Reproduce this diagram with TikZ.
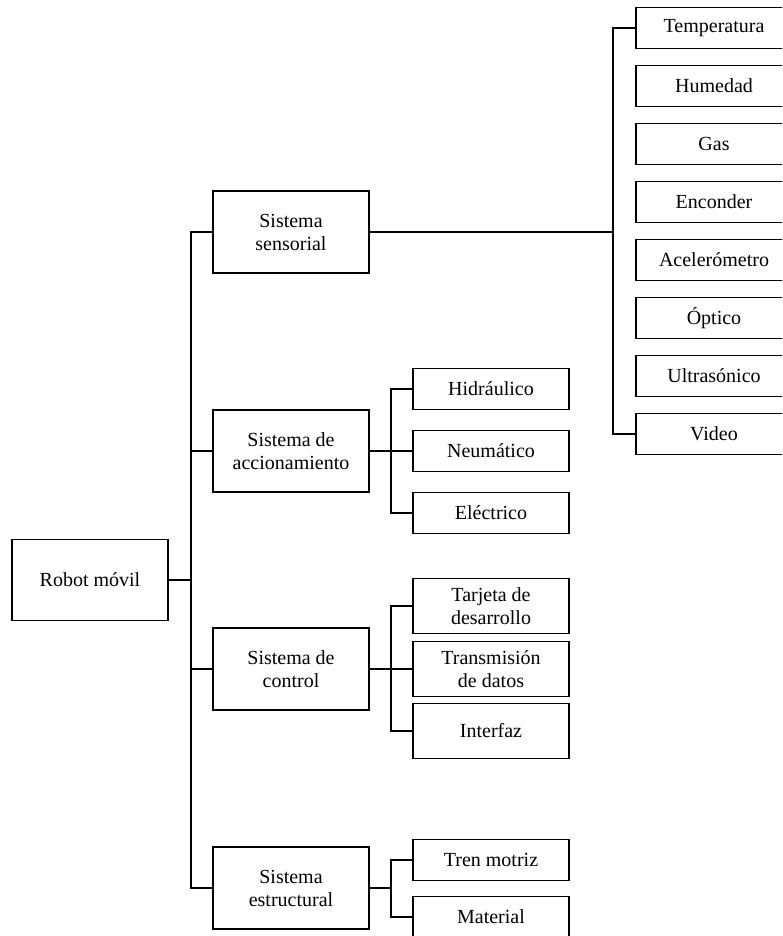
\documentclass[tikz,border=0pt]{standalone}
\usepackage{fontspec}
\setmainfont{Liberation Serif}
\usepackage{tikz}
\usetikzlibrary{positioning,calc}
\tikzset{
  box/.style={draw=black, line width=1.8pt, align=center, inner sep=2pt, minimum width=156pt, minimum height=82pt, font=\fontsize{20}{23}\selectfont},
  leaf/.style={draw=black, line width=1.8pt, align=center, inner sep=2pt, minimum width=156pt, minimum height=41pt, font=\fontsize{20}{23}\selectfont},
  tallleaf/.style={leaf, minimum height=55pt},
  link/.style={line width=1.5pt}
}

\begin{document}
\begin{tikzpicture}[x=1pt, y=-1pt]
\clip (0,0) rectangle (782,936);
\fill[white] (0,0) rectangle (782,936);
\node[box, minimum height=81pt] (robot) at (90,580) {Robot móvil};
\node[box] (sens) at (291,232) {Sistema\\sensorial};
\node[box] (acc) at (291,451) {Sistema de\\accionamiento};
\node[box] (ctrl) at (291,669) {Sistema de\\control};
\node[box] (estr) at (291,888) {Sistema\\estructural};
% sensores
\node[leaf] (temp) at (714,28) {Temperatura};
\node[leaf] (hum) at (714,86) {Humedad};
\node[leaf] (gas) at (714,144) {Gas};
\node[leaf] (enc) at (714,202) {Enconder};
\node[leaf] (acel) at (714,260) {Acelerómetro};
\node[leaf] (opt) at (714,318) {Óptico};
\node[leaf] (ultra) at (714,376) {Ultrasónico};
\node[leaf] (video) at (714,434) {Video};
% accionamiento
\node[leaf] (hid) at (491,389) {Hidráulico};
\node[leaf] (neu) at (491,451) {Neumático};
\node[leaf] (ele) at (491,513) {Eléctrico};
% control
\node[tallleaf] (tar) at (491,606) {Tarjeta de\\desarrollo};
\node[tallleaf] (tra) at (491,669) {Transmisión\\de datos};
\node[tallleaf] (inter) at (491,731) {Interfaz};
% estructural
\node[leaf] (tren) at (491,860) {Tren motriz};
\node[leaf] (mat) at (491,917) {Material};

\coordinate (trunk) at (191,0);
\coordinate (sbus) at (613,0);
\coordinate (ebus) at (391,0);
\draw[link] (sens.west) -| (trunk |- estr.west) -- (estr.west);
\draw[link] (robot.east) -- (robot.east -| trunk);
\draw[link] (acc.west) -- (acc.west -| trunk);
\draw[link] (ctrl.west) -- (ctrl.west -| trunk);

\draw[link] (temp.west) -| (sbus |- video.west) -- (video.west);
\draw[link] (sens.east) -- (sens.east -| sbus);

\draw[link] (hid.west) -| (ebus |- ele.west) -- (ele.west);
\draw[link] (acc.east) -- (neu.west);

\draw[link] (tar.west) -| (ebus |- inter.west) -- (inter.west);
\draw[link] (ctrl.east) -- (tra.west);

\draw[link] (tren.west) -| (ebus |- mat.west) -- (mat.west);
\draw[link] (estr.east) -- (estr.east -| ebus);
\end{tikzpicture}
\end{document}
